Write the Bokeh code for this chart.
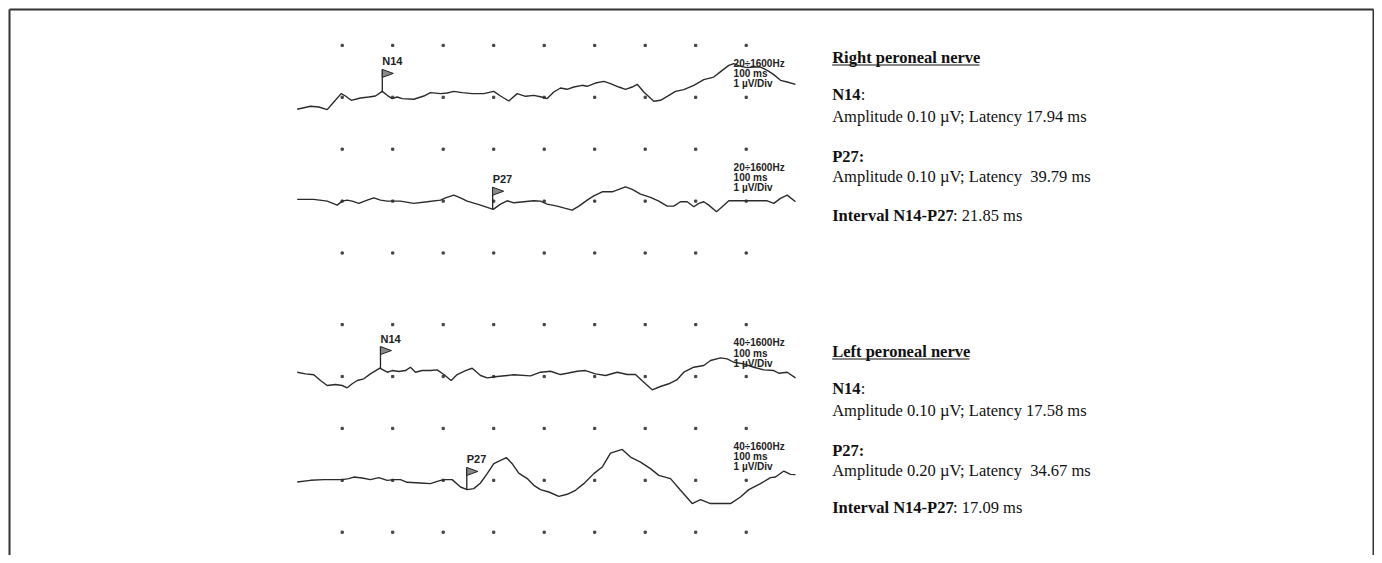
import numpy as np
from bokeh.plotting import figure
from bokeh.models import Range1d, Label
from bokeh.embed import file_html
from bokeh.resources import INLINE

# ---------------- data (time in ms, amplitude in divisions / µV) ----------------
r1_t = [1.09, 3.72, 5.37, 7.03, 8.34, 9.80, 10.65, 11.78, 13.62, 15.27, 16.59, 17.92, 18.91, 19.90,
        20.89, 21.88, 24.18, 26.16, 27.49, 29.47, 30.79, 32.10, 33.76, 35.74, 38.04, 40.02, 41.35,
        42.99, 44.65, 46.30, 47.94, 49.27, 50.59, 51.90, 53.23, 54.55, 55.86, 57.52, 58.51, 60.16,
        61.80, 63.13, 64.77, 66.10, 67.43, 68.42, 69.72, 71.70, 73.03, 74.36, 76.00, 77.64, 79.62,
        81.60, 83.58, 85.25, 86.55, 87.54, 88.87, 90.20, 91.50, 92.83, 94.16, 95.47, 96.79, 98.12, 99.76]
r1_v = [-0.231, -0.173, -0.187, -0.237, -0.090, 0.071, 0.025, -0.058, -0.013, 0.006, 0.025, 0.115, 0.038,
        -0.025, 0.006, -0.025, -0.038, 0.025, 0.090, 0.071, 0.083, 0.115, 0.090, 0.071, 0.071, 0.115,
        0.025, -0.071, 0.071, 0.019, 0.038, 0.010, -0.025, 0.102, 0.179, 0.154, 0.198, 0.231, 0.212,
        0.275, 0.308, 0.263, 0.198, 0.154, 0.198, 0.250, 0.102, -0.077, -0.058, 0.019, 0.115, 0.148,
        0.231, 0.340, 0.390, 0.519, 0.615, 0.648, 0.596, 0.571, 0.583, 0.583, 0.519, 0.437, 0.327,
        0.294, 0.250]

r2_t = [1.09, 4.38, 7.03, 9.01, 10.00, 10.99, 11.98, 13.29, 14.95, 16.26, 17.58, 18.91, 21.54, 24.18,
        26.83, 29.47, 30.46, 32.10, 33.43, 34.75, 37.39, 39.90, 41.35, 42.67, 43.98, 45.96, 47.94,
        49.27, 50.59, 52.57, 54.22, 55.54, 56.87, 58.51, 59.82, 61.49, 63.47, 64.77, 66.10, 67.43,
        69.07, 71.05, 72.69, 74.36, 75.66, 76.99, 78.32, 79.62, 80.61, 81.60, 82.59, 84.12, 85.25,
        86.55, 88.87, 91.50, 94.16, 95.47, 96.79, 98.12, 99.76]
r2_v = [0.033, 0.033, 0.000, -0.077, 0.000, 0.019, 0.000, -0.044, 0.019, 0.063, 0.019, 0.000, 0.000,
        -0.044, -0.013, 0.019, 0.063, 0.115, 0.063, 0.000, -0.077, -0.160, -0.058, 0.006, -0.033,
        -0.013, 0.006, 0.000, -0.058, -0.096, -0.140, -0.173, -0.096, 0.019, 0.102, 0.179, 0.179,
        0.225, 0.275, 0.225, 0.135, 0.071, 0.000, -0.096, -0.096, -0.013, -0.013, -0.109, -0.044,
        -0.013, -0.077, -0.206, -0.109, 0.006, 0.006, 0.006, 0.006, -0.044, 0.052, 0.115, -0.013]

l1_t = [1.09, 2.73, 4.38, 5.70, 7.03, 8.67, 10.00, 10.99, 11.98, 12.97, 14.28, 15.58, 17.45, 18.91,
        19.90, 21.21, 22.53, 23.52, 24.51, 25.84, 27.49, 28.81, 30.12, 31.58, 32.77, 34.42, 35.74,
        37.39, 38.71, 40.69, 43.98, 47.29, 49.27, 51.25, 53.23, 54.55, 56.53, 58.18, 60.16, 62.14,
        64.46, 66.44, 68.08, 69.72, 71.39, 73.03, 74.67, 76.34, 77.64, 79.62, 81.60, 82.93, 84.91,
        86.24, 87.54, 89.52, 91.50, 93.49, 95.47, 96.46, 98.12, 99.76]
l1_v = [0.083, 0.052, 0.033, -0.077, -0.173, -0.154, -0.173, -0.217, -0.140, -0.077, -0.044, 0.052,
        0.160, 0.083, 0.115, 0.096, 0.115, 0.179, 0.083, 0.115, 0.115, 0.129, 0.038, -0.077, 0.038,
        0.115, 0.160, 0.019, -0.025, 0.000, 0.033, 0.013, 0.083, 0.102, 0.038, 0.063, 0.102, 0.115,
        0.052, 0.019, 0.083, 0.038, 0.038, -0.110, -0.256, -0.192, -0.140, -0.058, 0.083, 0.179,
        0.212, 0.308, 0.359, 0.340, 0.275, 0.244, 0.179, 0.129, 0.115, 0.063, 0.083, -0.025]

l2_t = [1.09, 3.72, 6.36, 10.00, 11.31, 12.28, 13.96, 15.60, 17.25, 18.91, 20.22, 21.54, 22.87, 25.50,
        27.49, 28.81, 30.12, 31.78, 33.43, 34.75, 36.06, 37.39, 38.71, 40.02, 41.35, 42.53, 43.66,
        44.95, 46.63, 47.94, 49.27, 50.91, 52.89, 54.55, 56.20, 57.84, 59.82, 61.49, 63.13, 65.45,
        67.09, 69.07, 71.05, 72.69, 75.01, 77.00, 79.31, 80.95, 82.93, 86.89, 88.87, 90.51, 92.83,
        94.81, 95.80, 97.45, 98.77, 99.76]
l2_v = [-0.033, 0.000, 0.013, 0.013, 0.033, 0.063, 0.044, 0.013, 0.052, 0.000, 0.013, 0.013, -0.038,
        -0.052, -0.063, -0.019, 0.013, 0.013, -0.129, -0.179, -0.160, -0.052, 0.129, 0.321, 0.385,
        0.436, 0.321, 0.140, 0.033, -0.096, -0.179, -0.225, -0.308, -0.269, -0.192, -0.064, 0.129,
        0.256, 0.525, 0.596, 0.448, 0.352, 0.225, 0.096, 0.033, -0.192, -0.448, -0.371, -0.448,
        -0.448, -0.321, -0.179, -0.064, 0.052, 0.063, 0.179, 0.115, 0.110]

trace_t = [r1_t, r2_t, l1_t, l2_t]
trace_v = [r1_v, r2_v, l1_v, l2_v]
peak_names = ["N14", "P27", "N14", "P27"]
peak_latency = [17.94, 39.79, 17.58, 34.67]
filters = ["20÷1600Hz", "20÷1600Hz", "40÷1600Hz", "40÷1600Hz"]
sweep = "100 ms"
sensitivity = "1 µV/Div"
grid_ms = [10, 20, 30, 40, 50, 60, 70, 80, 90]

headings = ["Right peroneal nerve", "Left peroneal nerve"]
n14_amp = ["0.10", "0.10"]
n14_lat = ["17.94", "17.58"]
p27_amp = ["0.10", "0.20"]
p27_lat = ["39.79", "34.67"]
interval = ["21.85", "17.09"]

# ---------------- layout ----------------
W, H = 1374, 555
PX_MS = 5.05          # pixels per ms
PX_DIV = 51.9         # pixels per division
X0_PAGE = 291.2       # x of 0 ms
Y0_PAGE = 96.8        # y of first trace baseline
trace_offset = [0.0, -2.0, -5.38, -7.38]
group_rows = [[1, 0, -1, -2, -3], [-4.38, -5.38, -6.38, -7.38, -8.38]]

xs = -X0_PAGE / PX_MS
xe = xs + W / PX_MS
yt = Y0_PAGE / PX_DIV
yb = yt - H / PX_DIV


def X(px):
    return xs + px / PX_MS


def Y(py):
    return yt - py / PX_DIV


p = figure(width=W, height=H, x_range=Range1d(xs, xe), y_range=Range1d(yb, yt),
           output_backend="svg", toolbar_location=None, min_border=0,
           outline_line_color=None, background_fill_color="white")
p.xaxis.visible = False
p.yaxis.visible = False
p.xgrid.visible = False
p.ygrid.visible = False

# frame border (left, top, right)
p.segment(x0=[X(9), X(9), X(1373)], y0=[yb, Y(9), Y(9)],
          x1=[X(9), X(1373), X(1373)], y1=[Y(9), Y(9), yb],
          line_color="#333333", line_width=2)

# dot grid
gx, gy = [], []
for rows in group_rows:
    for r in rows:
        for m in grid_ms:
            gx.append(m)
            gy.append(r)
p.scatter(gx, gy, size=2.2, color="#444444", marker="square")

# traces
for t, v, off in zip(trace_t, trace_v, trace_offset):
    p.line(t, np.array(v) + off, line_color="#2b2b2b", line_width=1.4)

POLE = 22 / PX_DIV
FLAG_H = 8 / PX_DIV
FLAG_W = 11 / PX_MS
for t, v, off, name, lat, filt in zip(trace_t, trace_v, trace_offset, peak_names, peak_latency, filters):
    base = np.interp(lat, t, v) + off
    top = base + POLE
    p.segment(x0=[lat], y0=[base], x1=[lat], y1=[top], line_color="#222222", line_width=1.3)
    p.patch([lat, lat, lat + FLAG_W], [top, top - FLAG_H, top - FLAG_H / 2],
            fill_color="#8a8a8a", line_color="#222222", line_width=1)
    p.add_layout(Label(x=lat, y=top + 8 / PX_DIV, text=name, text_font="Liberation Sans",
                       text_font_style="bold", text_font_size="11px", text_color="#222222",
                       text_baseline="alphabetic", text_align="left"))
    for txt, dy in zip([filt, sweep, sensitivity], [34, 23.5, 13.5]):
        p.add_layout(Label(x=87.5, y=off + dy / PX_DIV, text=txt, text_font="Liberation Sans",
                           text_font_style="bold", text_font_size="10px", text_color="#222222",
                           text_baseline="alphabetic", text_align="left"))

# report text
TX = 831.7
SHIFT = 5
group_base = [[62, 99, 121, 161, 181, 220], [356, 393, 415, 455, 475, 512]]
underline_end = [979, 969]
font = "Liberation Serif"
for g in range(2):
    b = group_base[g]

    def lab(x, y, text, bold=False):
        p.add_layout(Label(x=X(x), y=Y(y - SHIFT), text=text, text_font=font, text_font_size="16.5px",
                           text_font_style="bold" if bold else "normal", text_color="#111111",
                           text_baseline="alphabetic", text_align="left"))

    lab(TX, b[0], headings[g], bold=True)
    p.segment(x0=[X(TX)], y0=[Y(b[0] + 2.5)], x1=[X(underline_end[g])], y1=[Y(b[0] + 2.5)],
              line_color="#111111", line_width=1.2)
    lab(TX, b[1], "N14", bold=True)
    lab(860.2, b[1], ":")
    lab(TX, b[2], f"Amplitude {n14_amp[g]} µV; Latency {n14_lat[g]} ms")
    lab(TX, b[3], "P27:", bold=True)
    lab(TX, b[4], f"Amplitude {p27_amp[g]} µV; Latency\u00a0 {p27_lat[g]} ms")
    lab(TX, b[5], "Interval N14-P27", bold=True)
    lab(952.6, b[5], f": {interval[g]} ms")

open("out.html", "w").write(file_html(p, INLINE))
